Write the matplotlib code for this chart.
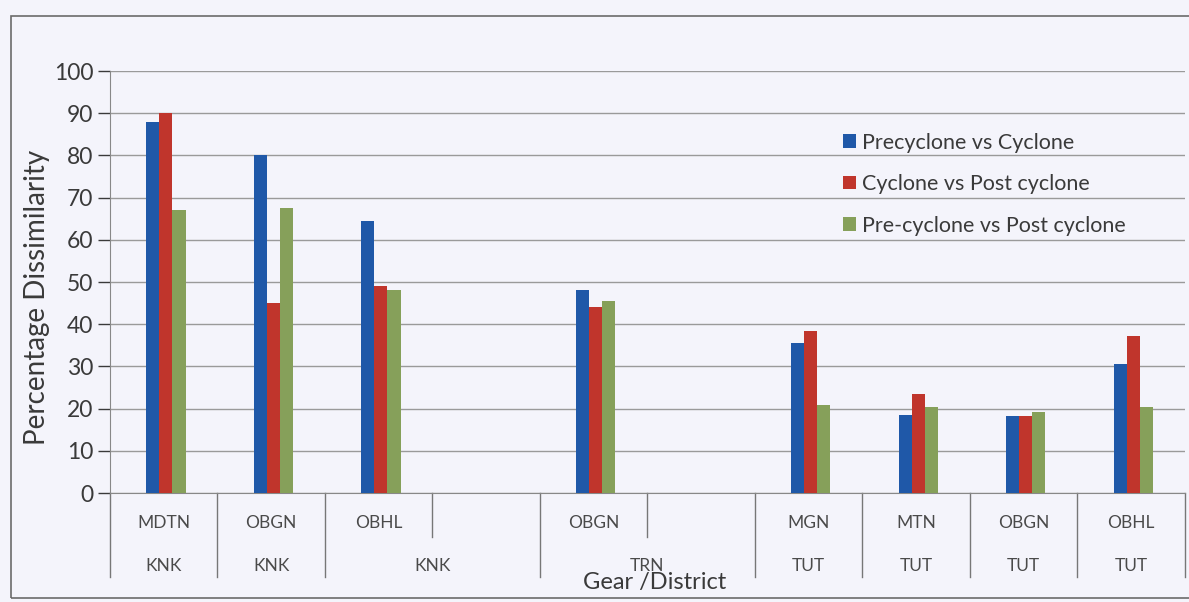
import numpy as np
import matplotlib.pyplot as plt
from matplotlib.patches import Rectangle
from matplotlib.transforms import blended_transform_factory

plt.rcParams["font.family"] = ["Lato", "DejaVu Sans"]

# data
gears = ["MDTN", "OBGN", "OBHL", "", "OBGN", "", "MGN", "MTN", "OBGN", "OBHL"]
districts = ["KNK", "KNK", "KNK", "TRN", "TUT", "TUT", "TUT", "TUT"]
district_span = [1, 1, 2, 2, 1, 1, 1, 1]

pre_vs_cyc = [88, 80, 64.5, np.nan, 48, np.nan, 35.5, 18.5, 18.2, 30.5]
cyc_vs_post = [90, 45, 49, np.nan, 44, np.nan, 38.5, 23.5, 18.2, 37.3]
pre_vs_post = [67, 67.5, 48, np.nan, 45.5, np.nan, 20.8, 20.4, 19.2, 20.4]

series = [
    ("Precyclone vs Cyclone", pre_vs_cyc, "#1f58a8"),
    ("Cyclone vs Post cyclone", cyc_vs_post, "#c0352c"),
    ("Pre-cyclone vs Post cyclone", pre_vs_post, "#86a05a"),
]

fig = plt.figure(figsize=(11.89, 6.02), dpi=100)
fig.patch.set_facecolor("#f4f4fb")
fig.patches.append(Rectangle((0.009, 0.006), 0.995, 0.968, transform=fig.transFigure,
                             fill=False, edgecolor="#6a6a6a", linewidth=1.2))

ax = fig.add_axes([0.0925, 0.181, 0.904, 0.701])
ax.set_facecolor("#f4f4fb")

x = np.arange(len(gears))
w = 0.122
for i, (name, vals, col) in enumerate(series):
    ax.bar(x + (i - 1) * w + 0.02, vals, width=w, color=col, label=name, zorder=3)

ax.set_xlim(-0.5, len(gears) - 0.5)
ax.set_ylim(0, 100)
ax.set_yticks(range(0, 101, 10))
ax.tick_params(axis="y", labelsize=16.5, colors="#3a3a3a", length=9, width=1, pad=3)
ax.yaxis.grid(True, color="#9a9a9a", linewidth=1)
ax.set_axisbelow(True)
ax.set_xticks([])
for s in ["top", "right"]:
    ax.spines[s].set_visible(False)
ax.spines["left"].set_color("#888888")
ax.spines["bottom"].set_color("#888888")

ax.set_ylabel("Percentage Dissimilarity", fontsize=20, color="#3a3a3a")
ax.yaxis.set_label_coords(-0.056, 0.464)

# two level category axis
tr = blended_transform_factory(ax.transData, ax.transAxes)
for i, g in enumerate(gears):
    ax.text(i, -0.07, g, transform=tr, ha="center", va="center", fontsize=12.5, color="#4a4a4a")

start = 0
bounds = [-0.5]
for d, span in zip(districts, district_span):
    ax.text(start + (span - 1) / 2, -0.174, d, transform=tr, ha="center", va="center",
            fontsize=12.5, color="#4a4a4a")
    for k in range(1, span):
        ax.plot([start + k - 0.5] * 2, [0, -0.104], transform=tr, color="#777777",
                linewidth=1, clip_on=False)
    start += span
    bounds.append(start - 0.5)
for b in bounds:
    ax.plot([b, b], [0, -0.2], transform=tr, color="#777777", linewidth=1, clip_on=False)

ax.text(0.5065, -0.213, "Gear /District", transform=ax.transAxes, ha="center", va="center",
        fontsize=17, color="#3a3a3a")

ax.legend(loc="upper left", bbox_to_anchor=(0.664, 0.9), frameon=False, fontsize=15.5,
          handlelength=0.6, handleheight=0.6, handletextpad=0.3, labelspacing=1.0,
          labelcolor="#3a3a3a")

fig.savefig("out.png", dpi=100, facecolor=fig.get_facecolor())
